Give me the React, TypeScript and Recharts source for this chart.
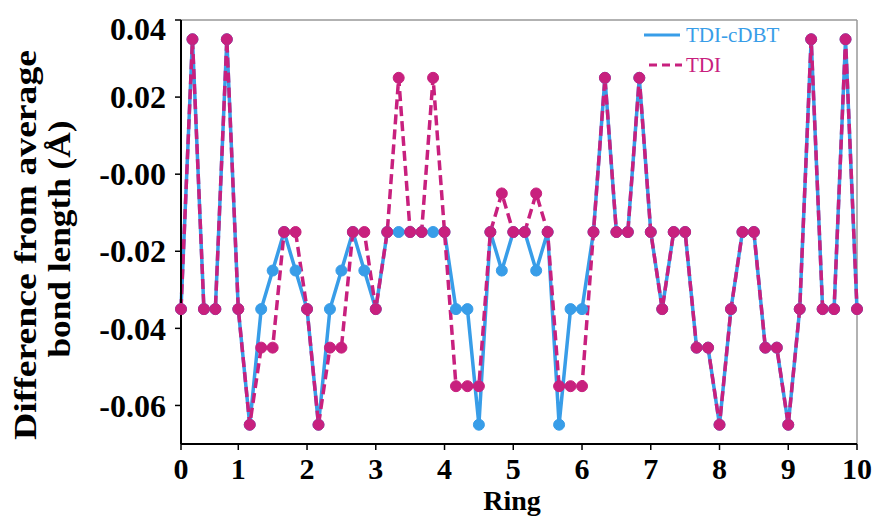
import React from "react";
import { Label, Line, LineChart, ReferenceLine, XAxis, YAxis } from "recharts";

// x positions are point indices; ring numbers sit on a few of them
const tickIdx = [0, 5, 11, 17, 23, 29, 35, 41, 47, 53, 59];
const tickLabels = ["0", "1", "2", "3", "4", "5", "6", "7", "8", "9", "10"];
const yTicks = [-0.06, -0.04, -0.02, 0, 0.02, 0.04];

const cdbtVals = [
  -0.035, 0.035, -0.035, -0.035, 0.035, -0.035, -0.065, -0.035, -0.025, -0.015,
  -0.025, -0.035, -0.065, -0.035, -0.025, -0.015, -0.025, -0.035, -0.015, -0.015,
  -0.015, -0.015, -0.015, -0.015, -0.035, -0.035, -0.065, -0.015, -0.025, -0.015,
  -0.015, -0.025, -0.015, -0.065, -0.035, -0.035, -0.015, 0.025, -0.015, -0.015,
  0.025, -0.015, -0.035, -0.015, -0.015, -0.045, -0.045, -0.065, -0.035, -0.015,
  -0.015, -0.045, -0.045, -0.065, -0.035, 0.035, -0.035, -0.035, 0.035, -0.035,
];
const tdiVals = [
  -0.035, 0.035, -0.035, -0.035, 0.035, -0.035, -0.065, -0.045, -0.045, -0.015,
  -0.015, -0.035, -0.065, -0.045, -0.045, -0.015, -0.015, -0.035, -0.015, 0.025,
  -0.015, -0.015, 0.025, -0.015, -0.055, -0.055, -0.055, -0.015, -0.005, -0.015,
  -0.015, -0.005, -0.015, -0.055, -0.055, -0.055, -0.015, 0.025, -0.015, -0.015,
  0.025, -0.015, -0.035, -0.015, -0.015, -0.045, -0.045, -0.065, -0.035, -0.015,
  -0.015, -0.045, -0.045, -0.065, -0.035, 0.035, -0.035, -0.035, 0.035, -0.035,
];

const rows = cdbtVals.map((v, i) => ({ pos: i, cdbt: v, tdi: tdiVals[i] }));

const BLUE = "#389de8";
const PINK = "#c8207e";
const SERIF = "Liberation Serif";

function YTick({ x, y, payload }: any) {
  const v = payload.value as number;
  const label = v === 0 ? "-0.00" : v.toFixed(2);
  return (
    <text
      x={x}
      y={Math.max(y, 29)}
      dy="0.35em"
      textAnchor="end"
      fontFamily={SERIF}
      fontWeight="bold"
      fontSize={32}
      fill="#000"
    >
      {label}
    </text>
  );
}

function LegendBox() {
  return (
    <div
      style={{
        position: "absolute",
        left: 640,
        top: 20,
        fontFamily: SERIF,
        fontSize: 21,
        lineHeight: "30px",
      }}
    >
      <div style={{ display: "flex", alignItems: "center", color: BLUE }}>
        <svg width={46} height={10}>
          <line x1={4} y1={5} x2={40} y2={5} stroke={BLUE} strokeWidth={3} />
        </svg>
        TDI-cDBT
      </div>
      <div style={{ display: "flex", alignItems: "center", color: PINK }}>
        <svg width={46} height={10}>
          <line x1={9} y1={5} x2={42} y2={5} stroke={PINK} strokeWidth={3} strokeDasharray="8 5" />
        </svg>
        TDI
      </div>
    </div>
  );
}

export default function App() {
  return (
    <div style={{ position: "absolute", left: 0, top: 0, width: 878, height: 516 }}>
      <LineChart width={878} height={516} data={rows} margin={{ top: 20, right: 21, bottom: 0, left: 0 }}>
        <XAxis
          dataKey="pos"
          type="number"
          domain={[0, 59]}
          ticks={tickIdx}
          tickFormatter={(v: number) => tickLabels[tickIdx.indexOf(v)]}
          height={72}
          axisLine={{ stroke: "#000", strokeWidth: 2 }}
          tickLine={{ stroke: "#000", strokeWidth: 1.5 }}
          tickSize={6}
          tickMargin={8}
          tick={{ fontSize: 30, fontWeight: "bold", fill: "#000", fontFamily: SERIF }}
          interval={0}
        >
          <Label
            content={() => (
              <text x={512} y={510} textAnchor="middle" fontFamily={SERIF} fontWeight="bold" fontSize={28} fill="#000">
                Ring
              </text>
            )}
          />
        </XAxis>
        <YAxis
          type="number"
          domain={[-0.07, 0.04]}
          ticks={yTicks}
          allowDataOverflow
          width={181}
          axisLine={{ stroke: "#000", strokeWidth: 2 }}
          tickLine={{ stroke: "#000", strokeWidth: 1.5 }}
          tickSize={6}
          tickMargin={9}
          tick={<YTick />}
          interval={0}
        >
          <Label
            content={() => (
              <g fontFamily={SERIF} fontWeight="bold" fontSize={31} fill="#000">
                <text
                  x={0}
                  y={0}
                  transform="translate(36,245) rotate(-90)"
                  textAnchor="middle"
                  textLength={390}
                  lengthAdjust="spacingAndGlyphs"
                >
                  Difference from average
                </text>
                <text
                  x={0}
                  y={0}
                  transform="translate(70,239) rotate(-90)"
                  textAnchor="middle"
                  textLength={237}
                  lengthAdjust="spacingAndGlyphs"
                >
                  bond length (Å)
                </text>
              </g>
            )}
          />
        </YAxis>
        <ReferenceLine y={0.04} stroke="#999" strokeWidth={1.5} />
        <ReferenceLine x={59} stroke="#999" strokeWidth={1.5} />
        <Line
          dataKey="cdbt"
          name="TDI-cDBT"
          stroke={BLUE}
          strokeWidth={3.5}
          dot={{ r: 5.5, fill: BLUE, stroke: BLUE, strokeWidth: 1 }}
          isAnimationActive={false}
        />
        <Line
          dataKey="tdi"
          name="TDI"
          stroke={PINK}
          strokeWidth={3.5}
          strokeDasharray="10 5"
          dot={{ r: 5.5, fill: PINK, stroke: PINK, strokeWidth: 1, strokeDasharray: "0" }}
          isAnimationActive={false}
        />
      </LineChart>
      <LegendBox />
    </div>
  );
}
